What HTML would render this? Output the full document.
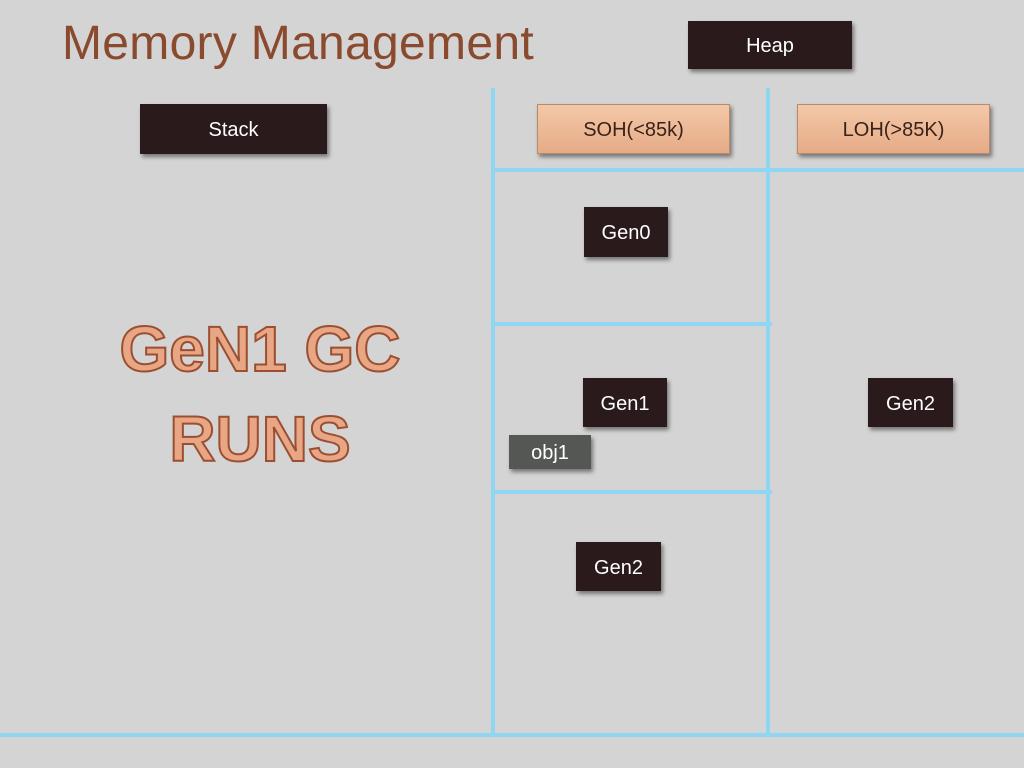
<!DOCTYPE html>
<html><head><meta charset="utf-8"><style>
body{margin:0;width:1024px;height:768px;overflow:hidden;background:#d4d4d4;font-family:"Liberation Sans",sans-serif;position:relative}
.l{position:absolute;background:#8fd6f2}
.b{position:absolute;color:#fff;display:flex;align-items:center;justify-content:center;font-size:20px;padding-top:3px;box-sizing:border-box;box-shadow:2px 3px 4px rgba(0,0,0,.45)}
.d{background:#2a1a1c}
.p{background:linear-gradient(#f3c8a8,#e6ab86);color:#3a2218;border:1px solid #b98a6c}
.t{position:absolute;left:62px;top:16px;font-size:48px;color:#8a4a2e;letter-spacing:0.3px}
.g{position:absolute;left:70px;width:380px;text-align:center;font-size:64px;font-weight:bold;color:#e8a684;-webkit-text-stroke:2px #9b4f30}
</style></head><body>
<div class="t">Memory Management</div>
<div class="l" style="left:491px;top:88px;width:4px;height:648px"></div>
<div class="l" style="left:766px;top:88px;width:4px;height:648px"></div>
<div class="l" style="left:491px;top:168px;width:533px;height:4px"></div>
<div class="l" style="left:491px;top:322px;width:281px;height:4px"></div>
<div class="l" style="left:491px;top:490px;width:281px;height:4px"></div>
<div class="l" style="left:0;top:733px;width:1024px;height:4px"></div>
<div class="b d" style="left:688px;top:21px;width:164px;height:48px">Heap</div>
<div class="b d" style="left:140px;top:104px;width:187px;height:50px">Stack</div>
<div class="b p" style="left:537px;top:104px;width:193px;height:50px">SOH(&lt;85k)</div>
<div class="b p" style="left:797px;top:104px;width:193px;height:50px">LOH(&gt;85K)</div>
<div class="b d" style="left:584px;top:207px;width:84px;height:50px">Gen0</div>
<div class="b d" style="left:583px;top:378px;width:84px;height:49px">Gen1</div>
<div class="b d" style="left:868px;top:378px;width:85px;height:49px">Gen2</div>
<div class="b d" style="left:576px;top:542px;width:85px;height:49px">Gen2</div>
<div class="b" style="left:509px;top:435px;width:82px;height:34px;background:#555755">obj1</div>
<div class="g" style="top:312px">GeN1 GC</div>
<div class="g" style="top:402px">RUNS</div>
</body></html>
